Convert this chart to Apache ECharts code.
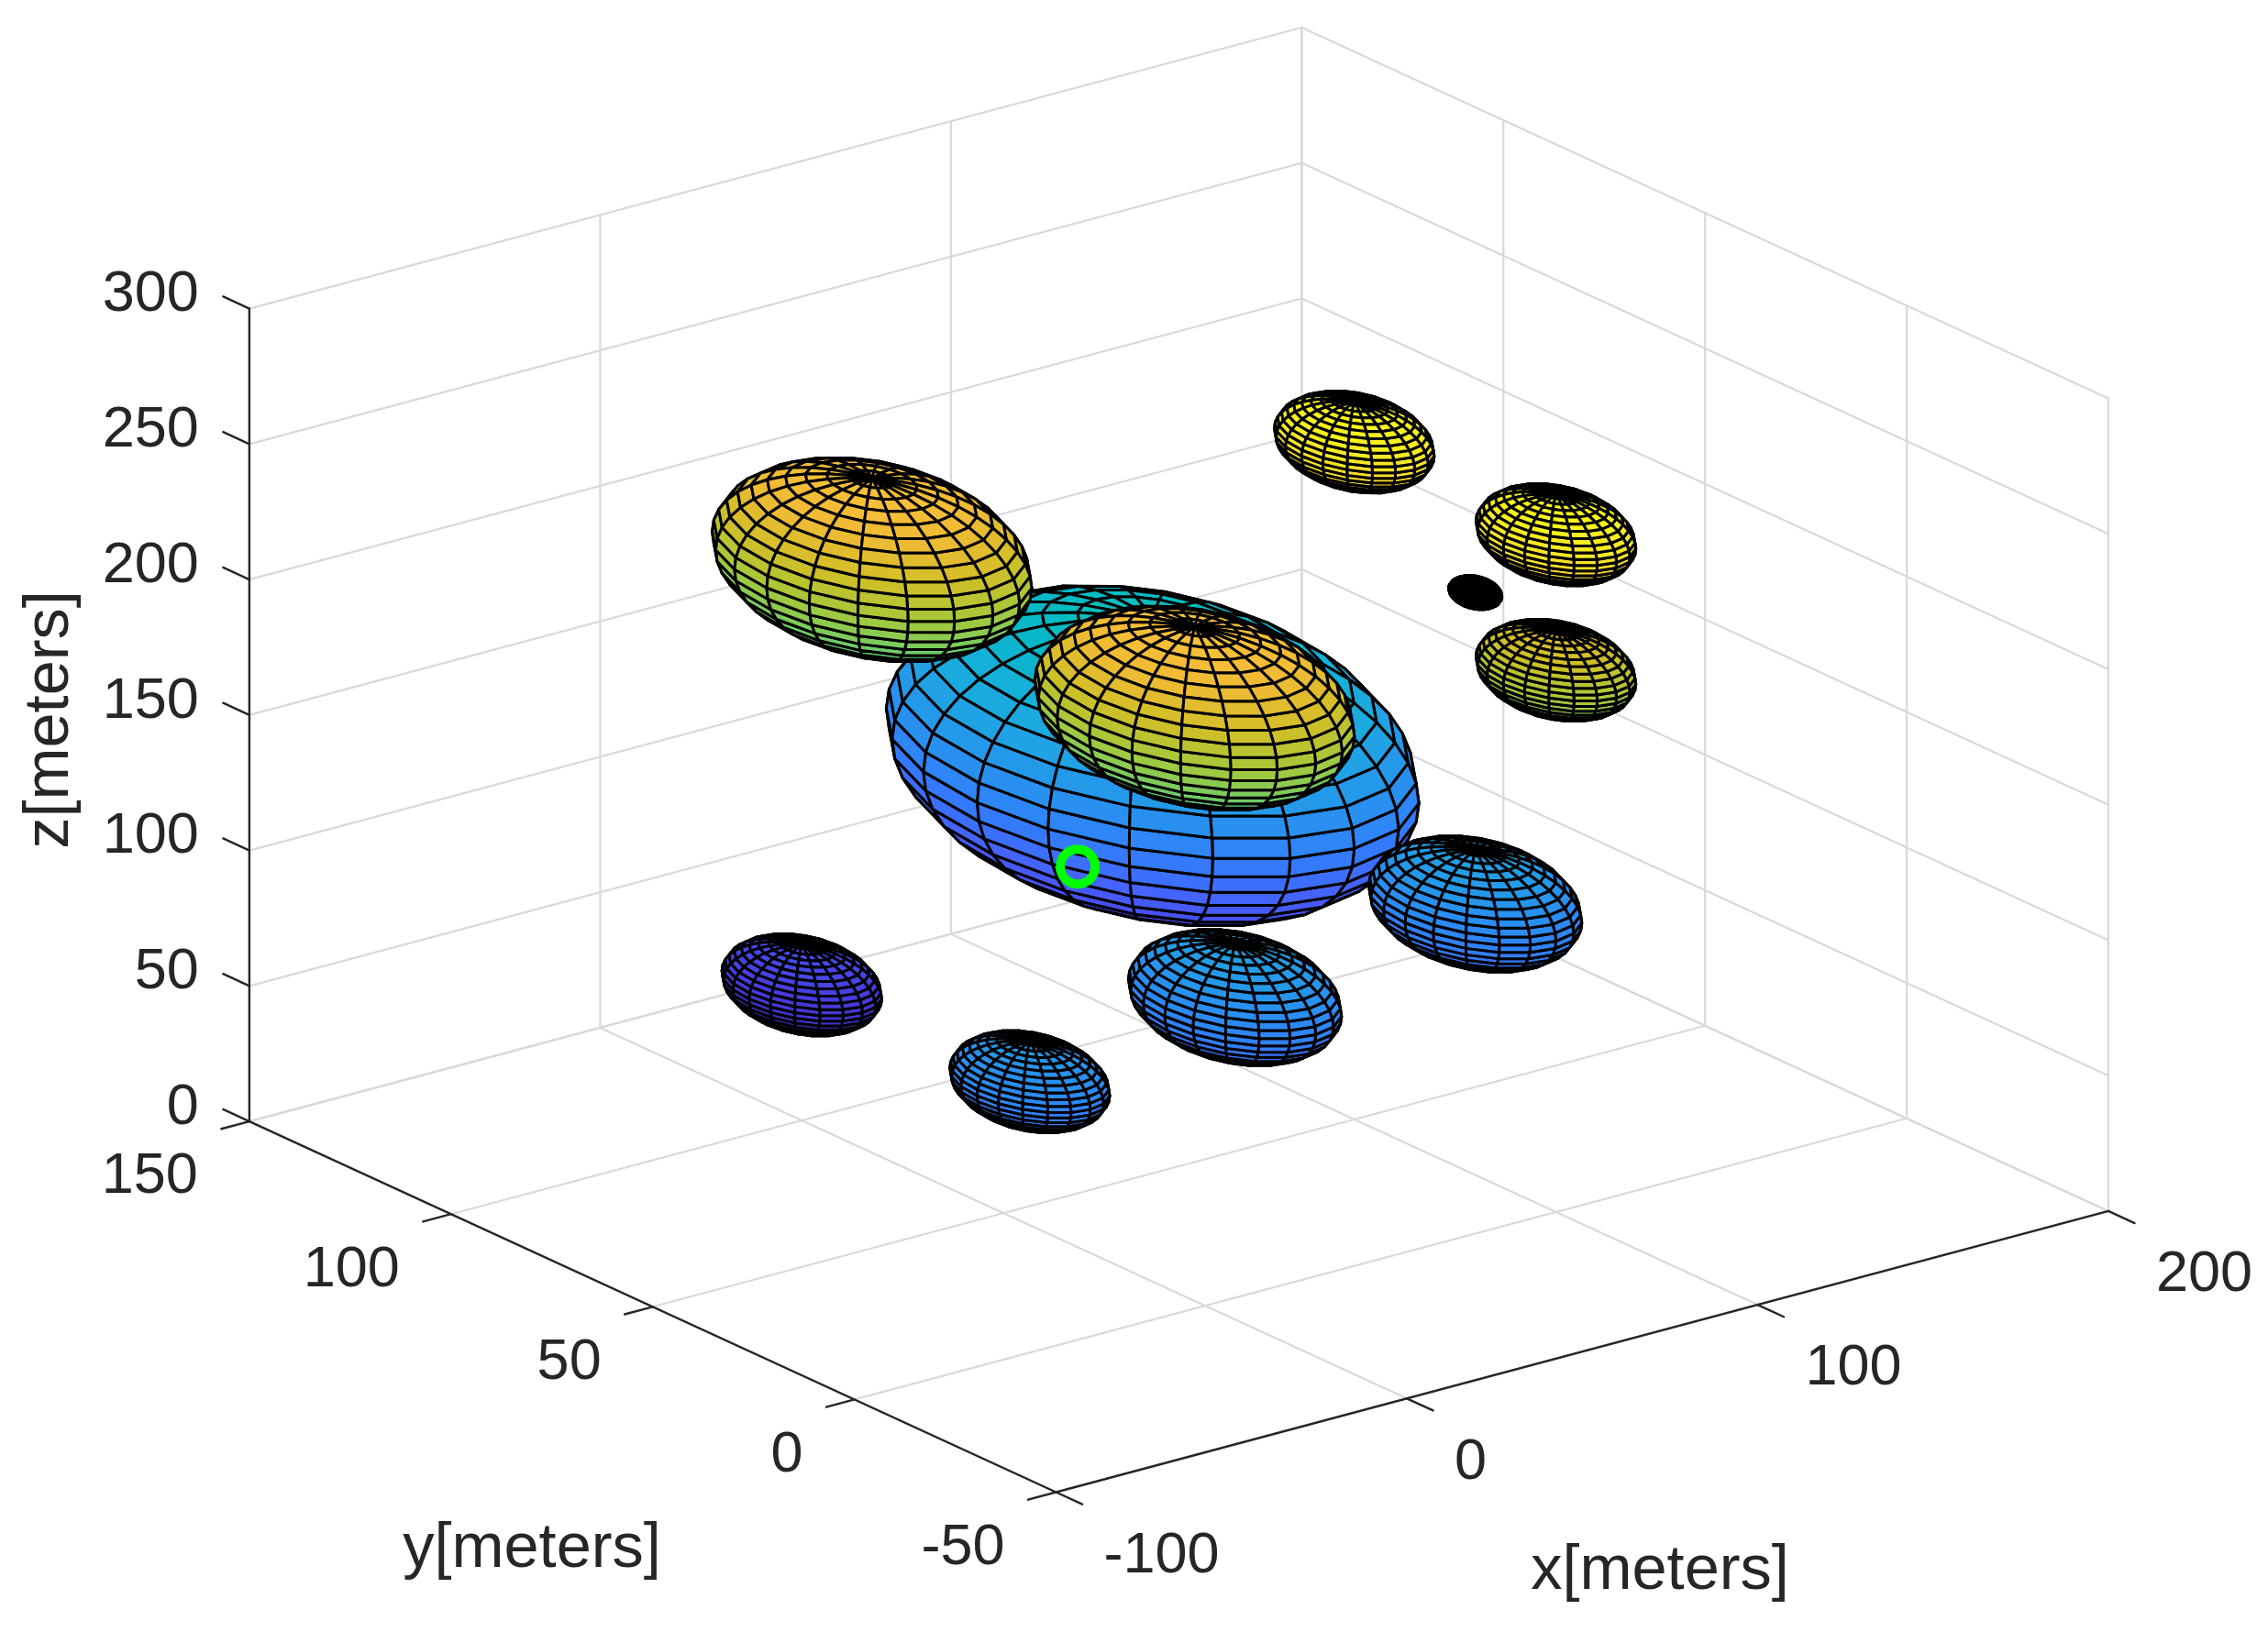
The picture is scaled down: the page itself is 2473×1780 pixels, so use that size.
<!DOCTYPE html>
<html>
<head>
    <meta charset="utf-8">
    <style>
        html,body{margin:0;padding:0;background:#fff;}
        #main{width:2473px;height:1780px;}
    </style>
    <script src="https://cdn.jsdelivr.net/npm/echarts@6/dist/echarts.min.js"></script>
</head>
<body>
<div id="main"></div>
<script type="text/javascript">
    // spheres: centre and radius in meters
    var sphereX=[100,  20, 20,100,100,100,100,100, 20,-50,  0];
    var sphereY=[100, 100, 20, 50,  0,  0, 20, 20, 10,  0,100];
    var sphereZ=[100, 200,200,250,250,200,215,100,100,100, 50];
    var sphereR=[ 50,  30, 30, 15, 15, 15,  5, 20, 20, 15, 15];

    // green marker
    var markerPoint=[43,69,100];

    var xTicks=[-100,0,100,200];
    var yTicks=[-50,0,50,100,150];
    var zTicks=[0,50,100,150,200,250,300];
    var xName='x[meters]';
    var yName='y[meters]';
    var zName='z[meters]';

    // parula, evenly spaced
    var parula=['#3e26a8','#4332cb','#4741e5','#4752f4','#4563fd','#3875fe','#2d87f7','#2796eb',
        '#20a5e3','#12b1d6','#02bac3','#24c1ae','#37c897','#57cc7a','#80cc59','#abc739',
        '#d1bf27','#efba36','#fec338','#fad62d','#f5e924','#f9fb14'];
    var colorMin=35;
    var colorMax=265;

    // sphere(n) style mesh
    var meshLon=20;
    var meshLat=22;

    var xMin=-100,xMax=200,yMin=-50,yMax=150,zMin=0,zMax=300;

    // orthographic view, meters -> picture pixels
    function project(x,y,z) {
        return [
            1151.5+3.825*(x-xMin)-4.398*(y-yMin),
            1627.5-1.022*(x-xMin)-2.022*(y-yMin)-2.955*(z-zMin)
        ];
    }
    // direction towards the viewer, in meters
    var viewDir=[-5.246,-4.548,4.978];
    // depth for the drawing order of the spheres, axes scaled to the plot box
    function depth(x,y,z) {
        return -0.583*x-1.137*y+0.553*z;
    }

    function faceColor(z) {
        var t=(z-colorMin)/(colorMax-colorMin);
        t=Math.max(0,Math.min(1,t));
        return echarts.color.lerp(t,parula);
    }

    // grid, axis lines and ticks as [from,to] in meters
    var gridSegs=[];
    var axisSegs=[];
    function seg(list,a,b) {
        list.push([project(a[0],a[1],a[2]),project(b[0],b[1],b[2])]);
    }
    for(let x of xTicks){
        seg(gridSegs,[x,yMin,zMin],[x,yMax,zMin]);
        seg(gridSegs,[x,yMax,zMin],[x,yMax,zMax]);
    }
    for(let y of yTicks){
        seg(gridSegs,[xMin,y,zMin],[xMax,y,zMin]);
        seg(gridSegs,[xMax,y,zMin],[xMax,y,zMax]);
    }
    for(let z of zTicks){
        seg(gridSegs,[xMin,yMax,z],[xMax,yMax,z]);
        seg(gridSegs,[xMax,yMin,z],[xMax,yMax,z]);
    }
    seg(axisSegs,[xMin,yMin,zMin],[xMax,yMin,zMin]);
    seg(axisSegs,[xMin,yMin,zMin],[xMin,yMax,zMin]);
    seg(axisSegs,[xMin,yMax,zMin],[xMin,yMax,zMax]);
    for(let x of xTicks){
        seg(axisSegs,[x,yMin,zMin],[x,yMin-6.5,zMin]);
    }
    for(let y of yTicks){
        seg(axisSegs,[xMin,y,zMin],[xMin-8,y,zMin]);
    }
    for(let z of zTicks){
        seg(axisSegs,[xMin,yMax,z],[xMin,yMax+6.5,z]);
    }

    // tick labels and axis names
    var texts=[];
    for(let x of xTicks){
        let p=project(x,yMin,zMin);
        texts.push({x:p[0]+52,y:p[1]+70,text:String(x),align:'left',size:63});
    }
    for(let y of yTicks){
        let p=project(xMin,y,zMin);
        texts.push({x:p[0]-56,y:p[1]+61,text:String(y),align:'right',size:63});
    }
    for(let z of zTicks){
        let p=project(xMin,yMax,z);
        texts.push({x:p[0]-55,y:p[1]-14.5,text:String(z),align:'right',size:63});
    }
    texts.push({x:1810,y:1714,text:xName,align:'center',size:68.5});
    texts.push({x:580,y:1690,text:yName,align:'center',size:68.5});
    texts.push({x:55,y:785,text:zName,align:'center',size:68.5,rotation:Math.PI/2});

    // mesh faces, far spheres first and far faces first inside a sphere
    var order=sphereX.map(function (v,i) {return i;});
    order.sort(function (a,b) {
        return depth(sphereX[a],sphereY[a],sphereZ[a])-depth(sphereX[b],sphereY[b],sphereZ[b]);
    });
    var faces=[];
    for(let s of order){
        let cx=sphereX[s],cy=sphereY[s],cz=sphereZ[s],r=sphereR[s];
        let vertex=function (i,j) {
            let lat=-Math.PI/2+Math.PI*i/meshLat;
            let lon=-Math.PI+2*Math.PI*j/meshLon;
            return [cx+r*Math.cos(lat)*Math.cos(lon),cy+r*Math.cos(lat)*Math.sin(lon),cz+r*Math.sin(lat)];
        };
        let list=[];
        for(let i=0;i<meshLat;i++){
            for(let j=0;j<meshLon;j++){
                let q=[vertex(i,j),vertex(i,j+1),vertex(i+1,j+1),vertex(i+1,j)];
                let mx=0,my=0,mz=0;
                for(let v of q){
                    mx+=v[0]/4;my+=v[1]/4;mz+=v[2]/4;
                }
                list.push({
                    near:(mx-cx)*viewDir[0]+(my-cy)*viewDir[1]+(mz-cz)*viewDir[2],
                    pts:q.map(function (v) {return project(v[0],v[1],v[2]);}),
                    color:faceColor(q[0][2])
                });
            }
        }
        list.sort(function (a,b) {return a.near-b.near;});
        faces=faces.concat(list);
    }

    function indexData(list) {
        return list.map(function (v,i) {return [i];});
    }
    function segSeries(list,color,width) {
        return {
            type:'custom',
            coordinateSystem:'cartesian2d',
            silent:true,
            animation:false,
            clip:false,
            progressive:0,
            data:indexData(list),
            renderItem:function (params,api) {
                let a=api.coord(list[params.dataIndex][0]);
                let b=api.coord(list[params.dataIndex][1]);
                return {
                    type:'line',
                    shape:{x1:a[0],y1:a[1],x2:b[0],y2:b[1]},
                    style:{stroke:color,lineWidth:width,lineCap:'round'}
                };
            }
        };
    }

    var myChart=echarts.init(document.getElementById('main'),null,{renderer:'canvas'});
    var option={
        backgroundColor:'#ffffff',
        animation:false,
        grid:{left:0,right:0,top:0,bottom:0},
        xAxis:{type:'value',min:0,max:2473,show:false},
        yAxis:{type:'value',min:0,max:1780,inverse:true,show:false},
        series:[
            segSeries(gridSegs,'#d9d9d9',2.2),
            segSeries(axisSegs,'#262626',2.4),
            {
                type:'custom',
                coordinateSystem:'cartesian2d',
                silent:true,
                animation:false,
                clip:false,
                progressive:0,
                data:indexData(faces),
                renderItem:function (params,api) {
                    let f=faces[params.dataIndex];
                    return {
                        type:'polygon',
                        shape:{points:f.pts.map(function (p) {return api.coord(p);})},
                        style:{fill:f.color,stroke:'#000000',lineWidth:3,lineJoin:'round'}
                    };
                }
            },
            {
                type:'scatter',
                silent:true,
                animation:false,
                symbol:'circle',
                symbolSize:38,
                itemStyle:{color:'rgba(0,0,0,0)',borderColor:'#00ff00',borderWidth:10,opacity:1},
                data:[project(markerPoint[0],markerPoint[1],markerPoint[2])]
            },
            {
                type:'custom',
                coordinateSystem:'cartesian2d',
                silent:true,
                animation:false,
                clip:false,
                data:indexData(texts),
                renderItem:function (params,api) {
                    let t=texts[params.dataIndex];
                    let p=api.coord([t.x,t.y]);
                    return {
                        type:'text',
                        x:p[0],
                        y:p[1],
                        rotation:t.rotation||0,
                        style:{
                            text:t.text,
                            fill:'#262626',
                            font:t.size+'px "Liberation Sans"',
                            align:t.align,
                            verticalAlign:'middle'
                        }
                    };
                }
            }
        ]
    };
    myChart.setOption(option);
</script>
</body>
</html>
